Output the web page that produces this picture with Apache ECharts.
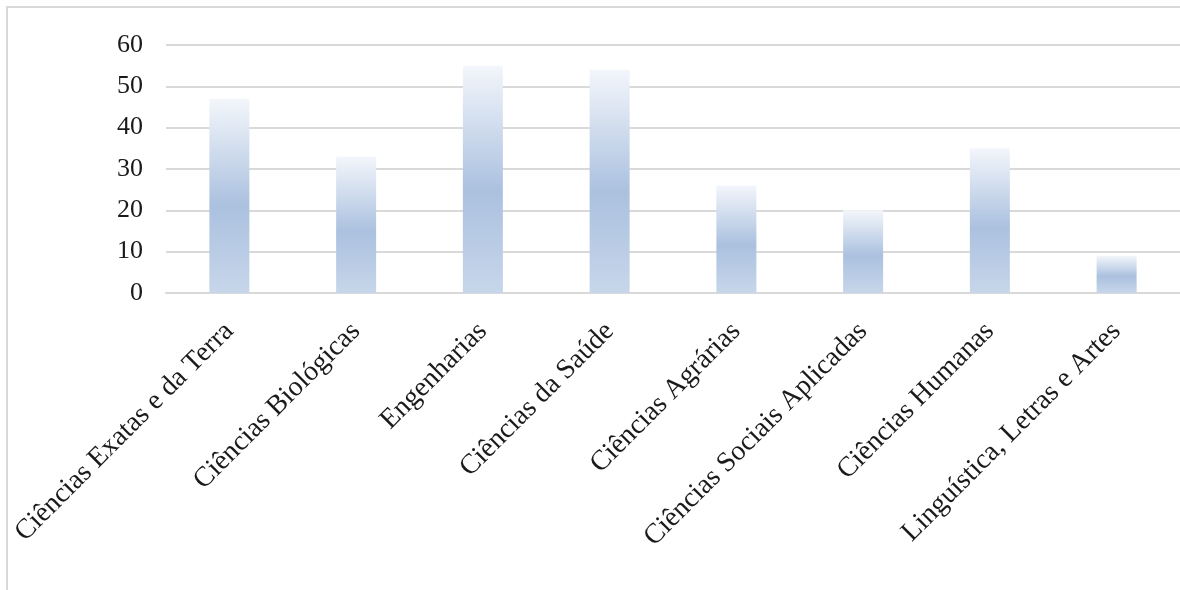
<!DOCTYPE html>
<html>
<head>
<meta charset="utf-8">
<script src="https://cdn.jsdelivr.net/npm/echarts@6/dist/echarts.min.js"></script>
<style>
  html, body { margin: 0; padding: 0; background: #fff; }
  #chart { width: 1180px; height: 590px; }
</style>
</head>
<body>
<div id="chart"></div>
<script>
// areas of knowledge
var categories = [
    'Ciências Exatas e da Terra',
    'Ciências Biológicas',
    'Engenharias',
    'Ciências da Saúde',
    'Ciências Agrárias',
    'Ciências Sociais Aplicadas',
    'Ciências Humanas',
    'Linguística, Letras e Artes'
];
var values = [47, 33, 55, 54, 26, 20, 35, 9];
var yTicks = [0, 10, 20, 30, 40, 50, 60];

var my_chart = echarts.init(document.getElementById('chart'));

var barGradient = new echarts.graphic.LinearGradient(0, 0, 0, 1, [
    { offset: 0, color: '#f3f6fb' },
    { offset: 0.55, color: '#abc1df' },
    { offset: 1, color: '#c7d6ea' }
]);

var option = {
    backgroundColor: '#ffffff',
    animation: false,
    // outer frame of the chart area (cut by the picture edge)
    graphic: [{
        type: 'rect',
        shape: { x: 7, y: 7, width: 1200, height: 620 },
        style: { fill: 'none', stroke: '#d9d9d9', lineWidth: 2 },
        silent: true
    }],
    grid: {
        left: 166,
        top: 45,
        width: 1016,
        height: 248
    },
    xAxis: {
        type: 'category',
        data: categories,
        axisLine: { show: true, lineStyle: { color: '#d9d9d9', width: 2 } },
        axisTick: { show: false },
        axisLabel: {
            interval: 0,
            rotate: 45,
            margin: 34,
            fontFamily: 'Liberation Serif',
            fontSize: 28,
            color: '#1a1a1a'
        }
    },
    yAxis: {
        type: 'value',
        min: yTicks[0],
        max: yTicks[yTicks.length - 1],
        interval: 10,
        axisLine: { show: false },
        axisTick: { show: false },
        splitLine: { lineStyle: { color: '#d9d9d9', width: 2 } },
        axisLabel: {
            margin: 23,
            fontFamily: 'Liberation Serif',
            fontSize: 26,
            color: '#1a1a1a'
        }
    },
    series: [{
        type: 'bar',
        data: values,
        barWidth: 40,
        itemStyle: { color: barGradient }
    }]
};

my_chart.setOption(option);
</script>
</body>
</html>
